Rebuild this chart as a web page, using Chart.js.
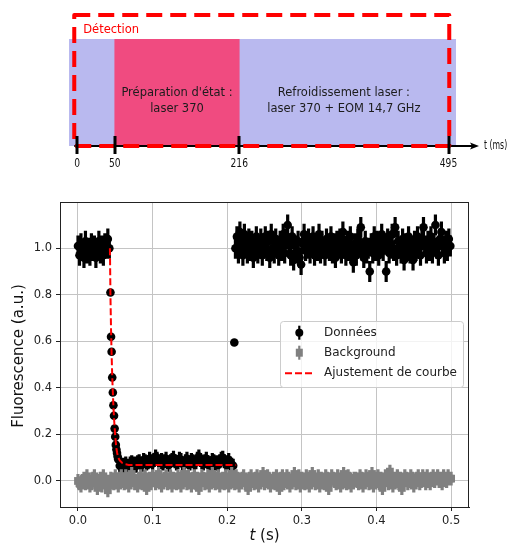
<!DOCTYPE html>
<html>
<head>
<meta charset="utf-8">
<script src="https://cdn.jsdelivr.net/npm/chart.js@4/dist/chart.umd.min.js"></script>
<style>
  body { margin: 0; background: #fff; }
  #wrap { position: relative; width: 510px; height: 547px; }
  #timeline { position: absolute; left: 0; top: 0; }
  #fluo { position: absolute; left: 0; top: 180px; }
</style>
</head>
<body>
<div id="wrap">
  <canvas id="timeline" width="510" height="180"></canvas>
  <canvas id="fluo" width="510" height="367"></canvas>
</div>
<script>
// ---- sequence diagram (ms) ----
var timelineTicks = [0, 50, 216, 495];
var coolingSpan = [-11, 505];
var prepSpan = [50, 216];
var detectionSpan = [-4, 496];
var prepText = ["Préparation d'état :", "laser 370"];
var coolingText = ["Refroidissement laser :", "laser 370 + EOM 14,7 GHz"];

// ---- fluorescence data (s, a.u.) ----
var step = 0.002;
var flatStart = 0.0;
var flatY = [1.01, 0.97, 1.02, 0.99, 0.96, 1.03, 0.98, 1.00, 0.97, 1.02, 0.99,
             1.01, 0.96, 1.00, 1.03, 0.98, 1.01, 0.97, 1.02, 1.00, 1.04, 1.00];
var decayStart = 0.0435, decayStep = 0.0008;
var decayY = [0.81, 0.62, 0.555, 0.445, 0.38, 0.325, 0.28, 0.225, 0.19, 0.155, 0.135, 0.12, 0.105, 0.093];
var plateauStart = 0.056;
var plateauY = [0.065, 0.06, 0.07, 0.06, 0.075, 0.065, 0.06, 0.075, 0.08,
                0.07, 0.075, 0.065, 0.08, 0.085, 0.075, 0.07, 0.09, 0.085, 0.075,
                0.08, 0.095, 0.085, 0.075, 0.09, 0.105, 0.095, 0.085, 0.08, 0.09,
                0.075, 0.085, 0.095, 0.08, 0.07, 0.085, 0.09, 0.1, 0.085, 0.075,
                0.08, 0.095, 0.09, 0.075, 0.07, 0.085, 0.095, 0.08, 0.075, 0.09,
                0.085, 0.075, 0.08, 0.095, 0.105, 0.09, 0.08, 0.075, 0.085, 0.095,
                0.08, 0.07, 0.075, 0.09, 0.085, 0.075, 0.08, 0.07, 0.085, 0.095,
                0.1, 0.085, 0.075, 0.08, 0.09, 0.075, 0.07, 0.065];
var isolatedT = 0.2095, isolatedY = 0.595;
var recoveryStart = 0.211;
var recoveryY = [1.00, 1.05, 0.98, 1.07, 1.03, 0.97, 1.06, 1.02, 0.98, 1.04,
                 0.99, 1.03, 0.96, 1.01, 1.05, 0.98, 1.00, 1.04, 0.97, 1.02,
                 1.05, 0.99, 1.03, 0.96, 1.06, 1.00, 0.98, 1.04, 1.01, 0.97,
                 1.03, 0.99, 1.06, 0.98, 1.04, 1.10, 1.02, 0.97, 1.05, 0.95,
                 1.01, 0.98, 1.03, 0.96, 0.93, 1.02, 1.06, 0.99, 1.00, 1.04,
                 0.98, 1.02, 1.05, 0.97, 1.01, 0.99, 1.06, 0.98, 1.03, 1.00,
                 0.97, 1.04, 1.01, 0.99, 1.05, 0.98, 1.02, 0.96, 1.03, 1.00,
                 1.04, 0.98, 1.07, 1.01, 0.97, 1.03, 0.99, 1.05, 0.99, 0.94,
                 1.02, 0.97, 1.04, 1.01, 1.09, 0.99, 0.96, 1.03, 0.98, 1.00,
                 0.90, 1.02, 0.98, 1.05, 0.99, 1.03, 0.97, 1.01, 1.06, 0.99,
                 1.02, 0.90, 1.04, 0.98, 1.00, 1.06, 0.99, 1.09, 0.97, 1.03,
                 1.00, 0.98, 1.04, 0.95, 1.02, 0.99, 1.05, 0.98, 1.01, 0.95,
                 1.03, 0.99, 1.05, 1.00, 0.97, 1.04, 1.09, 1.01, 0.98, 1.03,
                 0.99, 1.05, 0.98, 1.02, 1.10, 1.00, 0.97, 1.04, 1.07, 1.01,
                 0.98, 1.03, 0.99, 1.04, 1.01];
var bgStart = 0.0;
var bgY = [0.00, -0.01, -0.02, 0.00, 0.01, -0.01, 0.02, 0.00, -0.02, -0.01,
           0.01, 0.02, -0.01, -0.03, 0.00, 0.01, -0.02, 0.02, 0.00, -0.01,
           -0.04, -0.02, 0.01, 0.00, -0.01, 0.02, 0.00, -0.02, 0.01, 0.02,
           0.00, -0.01, 0.02, 0.01, -0.02, 0.00, 0.03, 0.01, -0.01, 0.00,
           -0.02, 0.01, 0.02, -0.01, 0.00, 0.02, -0.03, 0.00, 0.01, -0.01,
           0.02, 0.01, -0.01, 0.00, 0.03, 0.01, -0.02, 0.00, 0.01, 0.02,
           -0.01, 0.00, 0.02, -0.02, 0.01, 0.00, -0.01, 0.02, 0.01, -0.02,
           0.00, 0.03, 0.01, -0.01, 0.02, 0.00, -0.02, 0.01, 0.02, -0.01,
           0.01, -0.03, 0.00, 0.02, 0.01, -0.01, 0.00, 0.02, -0.02, 0.01,
           0.03, 0.00, -0.01, 0.01, 0.02, -0.02, 0.00, 0.01, -0.01, 0.02,
           0.00, -0.02, 0.01, 0.03, 0.00, -0.01, 0.02, 0.01, -0.02, 0.00,
           0.01, 0.02, -0.01, 0.00, -0.03, 0.01, 0.02, 0.00, -0.01, 0.01,
           0.02, -0.02, 0.00, 0.01, 0.03, -0.01, 0.00, 0.02, 0.01, -0.02,
           0.00, 0.01, -0.01, 0.02, 0.00, -0.03, 0.01, 0.02, -0.01, 0.00,
           0.02, 0.01, -0.02, 0.00, 0.01, 0.03, -0.01, 0.00, 0.02, -0.02,
           0.01, 0.00, -0.01, 0.02, 0.01, -0.02, 0.00, 0.03, 0.01, -0.01,
           0.00, 0.02, -0.02, 0.01, 0.00, -0.01, 0.02, 0.01, -0.03, 0.00,
           0.02, 0.01, 0.00, -0.01, 0.02, 0.00, -0.02, 0.01, 0.03, 0.00,
           -0.01, 0.02, 0.01, -0.02, 0.00, 0.01, 0.01, 0.00, -0.01, 0.02,
           0.01, -0.02, 0.00, 0.02, 0.01, -0.01, 0.00, 0.03, -0.02, 0.01,
           0.00, 0.02, -0.01, 0.01, -0.03, 0.00, 0.02, 0.01, -0.01, 0.04,
           0.02, -0.02, 0.01, 0.00, 0.02, -0.01, 0.01, -0.03, 0.00, 0.02,
           0.01, -0.01, 0.00, 0.02, 0.01, -0.02, 0.00, 0.01, 0.02, -0.01,
           0.00, 0.02, 0.01, -0.01, 0.02, 0.00, -0.01, 0.01, 0.02, 0.00,
           0.01, 0.02, 0.00, 0.01, -0.01, 0.02, 0.01, 0.00, 0.02, 0.01,
           0.01];
var fitT = [0.0428, 0.0435, 0.0443, 0.0451, 0.0459, 0.0467, 0.0475, 0.0483, 0.0491,
            0.0499, 0.0507, 0.0515, 0.0525, 0.054, 0.056, 0.059, 0.063, 0.068, 0.212];
var fitY = [1.00, 0.80, 0.65, 0.54, 0.45, 0.38, 0.32, 0.27, 0.23,
            0.195, 0.165, 0.14, 0.12, 0.10, 0.088, 0.078, 0.072, 0.069, 0.069];
var errFlat = 0.045, errDecay = 0.01, errPlateau = 0.03, errRecovery = 0.045, errBg = 0.03;
var xTicks = [0, 0.1, 0.2, 0.3, 0.4, 0.5];
var yTicks = [0, 0.2, 0.4, 0.6, 0.8, 1.0];

Chart.defaults.font.family = "'DejaVu Sans', sans-serif";

// build point lists
var donnees = [], donneesErr = [];
var background = [], bgErr = [];
function addSegment(pts, errs, t0, dt, ys, e) {
    ys.forEach(function (y, i) {
        pts.push({ x: +(t0 + i * dt).toFixed(5), y: y });
        errs.push(e);
    });
}
addSegment(donnees, donneesErr, flatStart, step, flatY, errFlat);
addSegment(donnees, donneesErr, decayStart, decayStep, decayY, errDecay);
addSegment(donnees, donneesErr, plateauStart, step, plateauY, errPlateau);
donnees.push({ x: isolatedT, y: isolatedY }); donneesErr.push(errDecay);
addSegment(donnees, donneesErr, recoveryStart, step, recoveryY, errRecovery);
addSegment(background, bgErr, bgStart, step, bgY, errBg);
var fit = fitT.map(function (t, i) { return { x: t, y: fitY[i] }; });

// ---- top diagram ----
var timelineDeco = {
    id: 'timelineDeco',
    afterDraw: function (chart) {
        var ctx = chart.ctx, xs = chart.scales.x, ca = chart.chartArea;
        var yAxis = ca.bottom;
        ctx.save();
        // phase texts
        ctx.fillStyle = '#1c1c1c';
        ctx.font = "11.5px 'DejaVu Sans'";
        ctx.textAlign = 'center';
        ctx.textBaseline = 'middle';
        var cx1 = (xs.getPixelForValue(prepSpan[0]) + xs.getPixelForValue(prepSpan[1])) / 2;
        ctx.fillText(prepText[0], cx1, 93);
        ctx.fillText(prepText[1], cx1, 109.5);
        var cx2 = (xs.getPixelForValue(prepSpan[1]) + xs.getPixelForValue(timelineTicks[3])) / 2;
        ctx.fillText(coolingText[0], cx2, 93);
        ctx.fillText(coolingText[1], cx2, 109.5);

        // time axis + arrow
        var l = xs.getPixelForValue(detectionSpan[0]), r = xs.getPixelForValue(detectionSpan[1]);
        ctx.strokeStyle = '#000';
        ctx.lineWidth = 2;
        ctx.beginPath();
        ctx.moveTo(l, yAxis); ctx.lineTo(ca.right + 16, yAxis);
        ctx.stroke();
        ctx.fillStyle = '#000';
        ctx.beginPath();
        ctx.moveTo(ca.right + 23, yAxis);
        ctx.lineTo(ca.right + 14, yAxis - 3.5);
        ctx.lineTo(ca.right + 16, yAxis);
        ctx.lineTo(ca.right + 14, yAxis + 3.5);
        ctx.closePath();
        ctx.fill();

        // detection window
        ctx.strokeStyle = '#ff0000';
        ctx.lineWidth = 4;
        ctx.lineJoin = 'round';
        ctx.setLineDash([16, 8]);
        ctx.strokeRect(l, ca.top - 24, r - l, yAxis - ca.top + 24);
        ctx.setLineDash([]);
        ctx.fillStyle = '#ff0000';
        ctx.textAlign = 'left';
        ctx.fillText('Détection', l + 9, ca.top - 9);

        // ticks and labels
        ctx.strokeStyle = '#000';
        ctx.lineWidth = 3;
        timelineTicks.forEach(function (t) {
            var x = Math.round(xs.getPixelForValue(t));
            ctx.beginPath();
            ctx.moveTo(x, yAxis - 10); ctx.lineTo(x, yAxis + 8);
            ctx.stroke();
        });
        ctx.fillStyle = '#111';
        ctx.font = "13px 'DejaVu Sans Condensed', 'DejaVu Sans'";
        ctx.textAlign = 'center';
        ctx.textBaseline = 'top';
        timelineTicks.forEach(function (t) {
            ctx.save();
            ctx.translate(xs.getPixelForValue(t), yAxis + 11);
            ctx.scale(0.78, 1);
            ctx.fillText(String(t), 0, 0);
            ctx.restore();
        });
        ctx.save();
        ctx.font = "12px 'DejaVu Sans Condensed', 'DejaVu Sans'";
        ctx.translate(ca.right + 28, yAxis);
        ctx.scale(0.72, 1);
        ctx.textAlign = 'left';
        ctx.textBaseline = 'middle';
        ctx.fillText('t (ms)', 0, 0);
        ctx.restore();
        ctx.restore();
    }
};

new Chart(document.getElementById('timeline'), {
    type: 'bar',
    data: {
        labels: ['séquence'],
        datasets: [
            { label: 'Préparation', data: [prepSpan], backgroundColor: '#f04b80',
              grouped: false, order: 1, barPercentage: 1, categoryPercentage: 1, borderWidth: 0 },
            { label: 'Refroidissement', data: [coolingSpan], backgroundColor: '#b9b9ef',
              grouped: false, order: 2, barPercentage: 1, categoryPercentage: 1, borderWidth: 0 }
        ]
    },
    options: {
        indexAxis: 'y',
        responsive: false,
        animation: false,
        layout: { padding: { left: 69, right: 54, top: 39, bottom: 34 } },
        scales: {
            x: { type: 'linear', display: false, min: coolingSpan[0], max: coolingSpan[1] },
            y: { display: false }
        },
        plugins: { legend: { display: false }, tooltip: { enabled: false } }
    },
    plugins: [timelineDeco]
});

// ---- fluorescence plot ----
var errorBars = {
    id: 'errorBars',
    beforeDatasetDraw: function (chart, args) {
        var errs = [donneesErr, bgErr][args.index];
        if (!errs) return;
        var ds = chart.data.datasets[args.index];
        var xs = chart.scales.x, ys = chart.scales.y, ctx = chart.ctx;
        ctx.save();
        ctx.strokeStyle = ds.backgroundColor;
        ctx.lineWidth = 3.2;
        ctx.beginPath();
        ds.data.forEach(function (p, i) {
            var x = xs.getPixelForValue(p.x);
            ctx.moveTo(x, ys.getPixelForValue(p.y + errs[i]));
            ctx.lineTo(x, ys.getPixelForValue(p.y - errs[i]));
        });
        ctx.stroke();
        ctx.restore();
    }
};

var frameAndLegend = {
    id: 'frameAndLegend',
    afterDatasetsDraw: function (chart) {
        var ctx = chart.ctx, ca = chart.chartArea, dsets = chart.data.datasets;
        ctx.save();
        ctx.strokeStyle = '#222';
        ctx.lineWidth = 1;
        ctx.strokeRect(Math.round(ca.left) + 0.5, Math.round(ca.top) + 0.5,
                       Math.round(ca.right - ca.left) - 1, Math.round(ca.bottom - ca.top));

        var bw = 183, bh = 66;
        var bx = ca.right - 6 - bw, by = ca.top + 119;
        ctx.fillStyle = 'rgba(255,255,255,0.8)';
        ctx.strokeStyle = '#cccccc';
        ctx.beginPath();
        ctx.roundRect(bx + 0.5, by + 0.5, bw, bh, 3);
        ctx.fill();
        ctx.stroke();

        var mx = bx + 19.3;
        var rows = [by + 11.7, by + 31.7, by + 52.3];
        // Données
        ctx.strokeStyle = '#000'; ctx.fillStyle = '#000'; ctx.lineWidth = 2.2;
        ctx.beginPath(); ctx.moveTo(mx, rows[0] - 7); ctx.lineTo(mx, rows[0] + 7); ctx.stroke();
        ctx.beginPath(); ctx.arc(mx, rows[0], 4, 0, Math.PI * 2); ctx.fill();
        // Background
        ctx.strokeStyle = '#808080'; ctx.fillStyle = '#808080';
        ctx.beginPath(); ctx.moveTo(mx, rows[1] - 7); ctx.lineTo(mx, rows[1] + 7); ctx.stroke();
        ctx.fillRect(mx - 3.5, rows[1] - 4, 7, 8);
        // fit
        ctx.strokeStyle = '#ff0000'; ctx.lineWidth = 2; ctx.setLineDash([7, 3]);
        ctx.beginPath(); ctx.moveTo(bx + 5, rows[2]); ctx.lineTo(bx + 33, rows[2]); ctx.stroke();
        ctx.setLineDash([]);

        ctx.fillStyle = '#222';
        ctx.font = "12px 'DejaVu Sans'";
        ctx.textAlign = 'left';
        ctx.textBaseline = 'middle';
        rows.forEach(function (y, i) { ctx.fillText(dsets[i].label, bx + 44, y); });
        ctx.restore();
    },
    afterDraw: function (chart) {
        var ctx = chart.ctx, ca = chart.chartArea;
        ctx.save();
        ctx.fillStyle = '#111';
        ctx.font = "15px 'DejaVu Sans'";
        ctx.textAlign = 'center';
        ctx.textBaseline = 'middle';
        ctx.translate(19.5, (ca.top + ca.bottom) / 2 + 1.5);
        ctx.rotate(-Math.PI / 2);
        ctx.fillText('Fluorescence (a.u.)', 0, 0);
        ctx.restore();

        ctx.save();
        ctx.fillStyle = '#111';
        ctx.textBaseline = 'middle';
        ctx.textAlign = 'left';
        ctx.font = "italic 15px 'DejaVu Sans'";
        var wT = ctx.measureText('t').width;
        ctx.font = "15px 'DejaVu Sans'";
        var wR = ctx.measureText(' (s)').width;
        var x0 = (ca.left + ca.right) / 2 - (wT + wR) / 2;
        var yT = ca.bottom + 29;
        ctx.font = "italic 15px 'DejaVu Sans'";
        ctx.fillText('t', x0, yT);
        ctx.font = "15px 'DejaVu Sans'";
        ctx.fillText(' (s)', x0 + wT, yT);
        ctx.restore();
    }
};

new Chart(document.getElementById('fluo'), {
    type: 'scatter',
    data: {
        datasets: [
            { label: 'Données', data: donnees, pointRadius: 4.3, backgroundColor: '#000000',
              borderWidth: 0, pointBorderWidth: 0, order: 3 },
            { label: 'Background', data: background, pointStyle: 'rect', pointRadius: 5.5,
              backgroundColor: '#808080', borderWidth: 0, pointBorderWidth: 0, order: 2 },
            { label: 'Ajustement de courbe', data: fit, showLine: true, borderColor: '#ff0000',
              borderWidth: 2, borderDash: [7, 3], pointRadius: 0, tension: 0, fill: false, order: 1 }
        ]
    },
    options: {
        responsive: false,
        animation: false,
        layout: { padding: { left: 0, right: 41, top: 22, bottom: 0 } },
        scales: {
            x: {
                type: 'linear', min: -0.0241, max: 0.524,
                afterFit: function (s) { s.height = 40; },
                afterBuildTicks: function (s) { s.ticks = xTicks.map(function (v) { return { value: v }; }); },
                grid: { color: '#c4c4c4', lineWidth: 1, tickLength: 4, tickColor: '#222' },
                border: { display: true, color: '#222', width: 1 },
                ticks: { callback: function (v) { return v.toFixed(1); }, padding: 3,
                         font: { size: 11.5 }, color: '#222', maxRotation: 0, autoSkip: false }
            },
            y: {
                type: 'linear', min: -0.112, max: 1.199,
                afterFit: function (s) { s.width = 60; },
                afterBuildTicks: function (s) { s.ticks = yTicks.map(function (v) { return { value: v }; }); },
                grid: { color: '#c4c4c4', lineWidth: 1, tickLength: 4, tickColor: '#222' },
                border: { display: true, color: '#222', width: 1 },
                ticks: { callback: function (v) { return v.toFixed(1); }, padding: 4,
                         font: { size: 11.5 }, color: '#222', autoSkip: false }
            }
        },
        plugins: { legend: { display: false }, tooltip: { enabled: false } }
    },
    plugins: [errorBars, frameAndLegend]
});
</script>
</body>
</html>
